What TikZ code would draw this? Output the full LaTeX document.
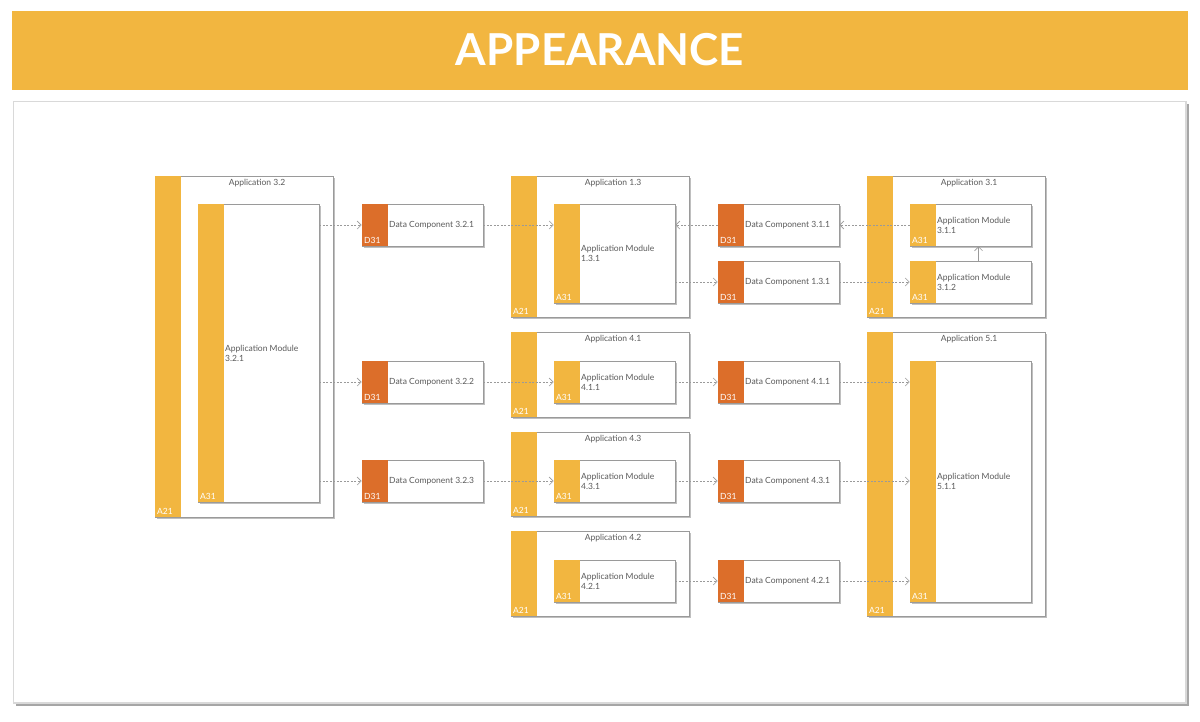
\documentclass[tikz,border=0pt]{standalone}
\usepackage{fontspec}
\setmainfont{Lato}
\usetikzlibrary{fit,arrows.meta}
\definecolor{hdr}{HTML}{F2B640}
\definecolor{appbar}{HTML}{F2B640}
\definecolor{databar}{HTML}{DC6E2A}
\definecolor{txt}{HTML}{5A5A5A}
\definecolor{edge}{HTML}{9A9A9A}
\tikzset{
  box/.style={draw=edge,line width=0.8pt,fill=white,inner sep=0pt},
  lbl/.style={text=txt,font=\fontsize{8.5}{10}\selectfont,align=left,inner sep=1pt},
  codelbl/.style={text=white,font=\fontsize{8.5}{10}\selectfont,inner sep=2pt},
  flow/.style={draw=edge,dashed,line width=0.6pt,dash pattern=on 2pt off 1.5pt,-{Straight Barb[length=4pt,width=8pt]}}
}
% name, x1, y1, x2, y2, barcolor, code, label, title?(1=app)
\newcommand\elem[9]{%
  \fill[black!25] (#2+2,#3+2) rectangle (#4+2,#5+2);
  \node[box,fit={(#2,#3)(#4,#5)}] (#1) {};
  \fill[#6] (#2,#3) rectangle (#2+25.5,#5);
  \node[codelbl,anchor=south west] at (#2,#5) {#7};
  \ifnum#9=1
    \node[lbl,anchor=north,align=center] at ({(#2+26+#4)/2},#3+2) {#8};
  \else
    \node[lbl,anchor=west] at (#2+26,{(#3+#5)/2}) {#8};
  \fi
}
\begin{document}
\begin{tikzpicture}[x=1pt,y=-1pt]
\useasboundingbox (0,0) rectangle (1200,721);
\fill[white] (0,0) rectangle (1200,721);
% header
\fill[hdr] (12,11) rectangle (1188,90);
\node[text=white,font=\fontsize{44}{48}\selectfont\bfseries] (title) at (600,50) {APPEARANCE};
% panel
\fill[black!35] (16,104) rectangle (1189,706);
\fill[black!15] (13,101) rectangle (1187,704);
\fill[white] (14,102) rectangle (1185,702);
% applications
\elem{a32}{155}{176}{333}{517}{appbar}{A21}{Application 3.2}{1}
\elem{a13}{511}{176}{689}{317}{appbar}{A21}{Application 1.3}{1}
\elem{a41}{511}{332}{689}{417}{appbar}{A21}{Application 4.1}{1}
\elem{a43}{511}{432}{689}{516}{appbar}{A21}{Application 4.3}{1}
\elem{a42}{511}{531}{689}{616}{appbar}{A21}{Application 4.2}{1}
\elem{a31}{867}{176}{1045}{317}{appbar}{A21}{Application 3.1}{1}
\elem{a51}{867}{332}{1045}{616}{appbar}{A21}{Application 5.1}{1}
% modules
\elem{m321}{198}{204}{319}{502}{appbar}{A31}{Application Module\\3.2.1}{0}
\elem{m131}{554}{204}{675}{303}{appbar}{A31}{Application Module\\1.3.1}{0}
\elem{m411}{554}{361}{675}{403}{appbar}{A31}{Application Module\\4.1.1}{0}
\elem{m431}{554}{460}{675}{502}{appbar}{A31}{Application Module\\4.3.1}{0}
\elem{m421}{554}{560}{675}{602}{appbar}{A31}{Application Module\\4.2.1}{0}
\elem{m311}{910}{204}{1031}{246}{appbar}{A31}{Application Module\\3.1.1}{0}
\elem{m312}{910}{261}{1031}{303}{appbar}{A31}{Application Module\\3.1.2}{0}
\elem{m511}{910}{361}{1031}{602}{appbar}{A31}{Application Module\\5.1.1}{0}
% data components
\elem{d321}{362}{204}{483}{246}{databar}{D31}{Data Component 3.2.1}{0}
\elem{d322}{362}{361}{483}{403}{databar}{D31}{Data Component 3.2.2}{0}
\elem{d323}{362}{460}{483}{502}{databar}{D31}{Data Component 3.2.3}{0}
\elem{d311}{718}{204}{839}{246}{databar}{D31}{Data Component 3.1.1}{0}
\elem{d131}{718}{261}{839}{303}{databar}{D31}{Data Component 1.3.1}{0}
\elem{d411}{718}{361}{839}{403}{databar}{D31}{Data Component 4.1.1}{0}
\elem{d431}{718}{460}{839}{502}{databar}{D31}{Data Component 4.3.1}{0}
\elem{d421}{718}{560}{839}{602}{databar}{D31}{Data Component 4.2.1}{0}
% flows
\draw[flow] (m321.east |- d321.west) -- (d321.west);
\draw[flow] (d321.east) -- (m131.west |- d321.east);
\draw[flow] (m321.east |- d322.west) -- (d322.west);
\draw[flow] (d322.east) -- (m411.west);
\draw[flow] (m321.east |- d323.west) -- (d323.west);
\draw[flow] (d323.east) -- (m431.west);
\draw[flow] (m131.east |- d131.west) -- (d131.west);
\draw[flow] (d131.east) -- (m312.west);
\draw[flow] (m311.west) -- (d311.east);
\draw[flow] (d311.west) -- (m131.east |- d311.west);
\draw[flow] (m411.east) -- (d411.west);
\draw[flow] (d411.east) -- (m511.west |- d411.east);
\draw[flow] (m431.east) -- (d431.west);
\draw[flow] (d431.east) -- (m511.west |- d431.east);
\draw[flow] (m421.east) -- (d421.west);
\draw[flow] (d421.east) -- (m511.west |- d421.east);
\draw[flow,solid] ([xshift=8pt]m312.north) -- ([xshift=8pt]m311.south);
\end{tikzpicture}
\end{document}
